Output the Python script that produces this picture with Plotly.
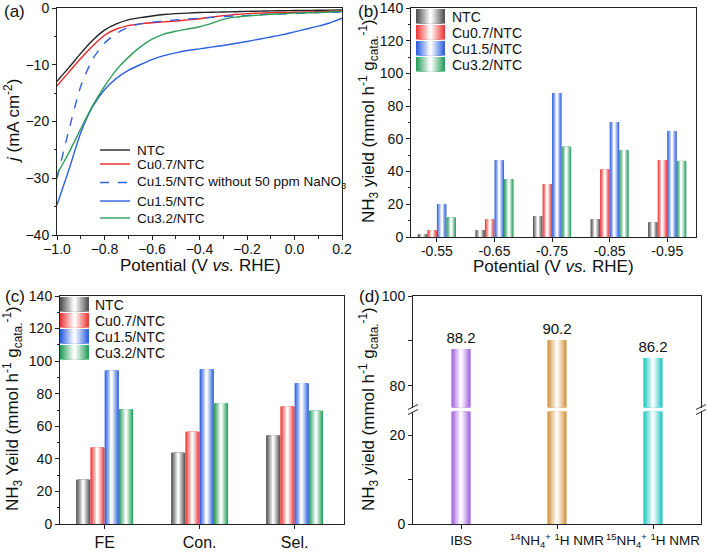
import plotly.graph_objects as go

W, H = 707, 553
FONT = "Liberation Sans, Arial, sans-serif"

# ---------------- Panel (a) data ----------------
potential = [-1.0, -0.95, -0.9, -0.85, -0.8, -0.75, -0.7, -0.65, -0.6, -0.55, -0.5, -0.45, -0.4,
             -0.35, -0.3, -0.25, -0.2, -0.15, -0.1, -0.05, 0.0, 0.05, 0.1, 0.15, 0.2]
j_ntc = [-12.9, -10.5, -8.0, -5.7, -3.9, -2.8, -2.1, -1.7, -1.4, -1.15, -1.0, -0.9, -0.8,
         -0.75, -0.7, -0.65, -0.6, -0.55, -0.5, -0.48, -0.45, -0.42, -0.4, -0.37, -0.35]
j_cu07 = [-13.7, -11.3, -8.9, -6.7, -4.8, -3.7, -3.1, -2.8, -2.6, -2.45, -2.3, -2.1, -1.9,
          -1.6, -1.35, -1.15, -1.0, -0.9, -0.85, -0.8, -0.75, -0.7, -0.65, -0.6, -0.55]
j_cu15_no3free = [-30.0, -21.5, -13.8, -9.0, -6.2, -4.5, -3.4, -2.8, -2.5, -2.3, -2.1, -1.95, -1.8,
                  -1.65, -1.5, -1.4, -1.3, -1.2, -1.1, -1.05, -1.0, -0.9, -0.8, -0.75, -0.7]
j_cu15 = [-34.7, -28.5, -22.0, -17.4, -14.4, -12.4, -11.0, -10.0, -9.1, -8.4, -7.9, -7.5, -7.2,
          -6.9, -6.6, -6.25, -5.9, -5.5, -5.1, -4.7, -4.2, -3.7, -3.2, -2.6, -1.8]
j_cu32 = [-29.3, -25.5, -21.3, -17.2, -13.8, -10.9, -8.7, -6.9, -5.5, -4.6, -4.1, -3.7, -3.3,
          -2.7, -2.0, -1.6, -1.4, -1.25, -1.1, -1.0, -0.9, -0.85, -0.8, -0.7, -0.6]

# ---------------- Panel (b) data ----------------
pot_labels_b = ["-0.55", "-0.65", "-0.75", "-0.85", "-0.95"]
yield_b_ntc = [1.8, 4.3, 12.7, 10.8, 9.0]
yield_b_cu07 = [4.1, 10.8, 32.3, 41.3, 47.0]
yield_b_cu15 = [20.1, 46.9, 88.0, 70.3, 64.8]
yield_b_cu32 = [11.9, 35.4, 55.2, 53.1, 46.5]

# ---------------- Panel (c) data ----------------
cats_c = ["FE", "Con.", "Sel."]
yield_c_ntc = [27.2, 43.7, 54.4]
yield_c_cu07 = [47.0, 56.6, 72.1]
yield_c_cu15 = [94.2, 95.0, 86.4]
yield_c_cu32 = [70.5, 74.2, 69.5]

# ---------------- Panel (d) data ----------------
cats_d = ["IBS", "<sup>14</sup>NH<sub>4</sub><sup>+</sup> <sup>1</sup>H NMR",
          "<sup>15</sup>NH<sub>4</sub><sup>+</sup> <sup>1</sup>H NMR"]
yield_d = [88.2, 90.2, 86.2]

series_names = ["NTC", "Cu0.7/NTC", "Cu1.5/NTC", "Cu3.2/NTC"]
series_rgb = [(85, 85, 85), (238, 60, 60), (50, 100, 225), (45, 160, 95)]
d_rgb = [(165, 100, 225), (210, 150, 65), (35, 200, 195)]


def px2x(px):
    return px / W


def py2y(py):
    return 1 - py / H


def mix(rgb, t):
    r, g, b = [int(round(c + (255 - c) * t)) for c in rgb]
    return f"rgb({r},{g},{b})"


NLEV = 8

fig = go.Figure()

# ---------- (a) lines ----------
line_specs = [
    ("NTC", j_ntc, "#222222", "solid"),
    ("Cu0.7/NTC", j_cu07, "#e82424", "solid"),
    ("Cu1.5/NTC without 50 ppm NaNO<sub>3</sub>", j_cu15_no3free, "#2f62e0", "dash"),
    ("Cu1.5/NTC", j_cu15, "#2f62e0", "solid"),
    ("Cu3.2/NTC", j_cu32, "#2e9e5b", "solid"),
]
for name, ys, col, dash in line_specs:
    fig.add_trace(go.Scatter(x=potential, y=ys, mode="lines", name=name, showlegend=False,
                             line=dict(color=col, width=1.4, dash=dash, shape="spline", smoothing=0.6),
                             xaxis="x", yaxis="y"))


def grad_bars(xidx, values, rgb, center_off, width, xa, ya, text=None):
    for k in range(NLEV):
        wk = width * (1 - k / NLEV)
        t = k / (NLEV - 1) * 0.97
        kw = {}
        if text is not None and k == 0:
            kw = dict(text=text, textposition="outside", cliponaxis=False, constraintext="none",
                      textfont=dict(size=15, color="#111", family=FONT))
        fig.add_trace(go.Bar(x=xidx, y=values, width=wk, offset=center_off - wk / 2,
                             marker=dict(color=mix(rgb, t), line=dict(width=0)),
                             xaxis=xa, yaxis=ya, showlegend=False, hoverinfo="skip", **kw))


# ---------- (b) bars ----------
wb = 0.166
idx_b = list(range(len(pot_labels_b)))
for i, vals in enumerate([yield_b_ntc, yield_b_cu07, yield_b_cu15, yield_b_cu32]):
    grad_bars(idx_b, vals, series_rgb[i], (i - 1.5) * wb, wb, "x2", "y2")

# ---------- (c) bars ----------
wc = 0.15
idx_c = list(range(len(cats_c)))
for i, vals in enumerate([yield_c_ntc, yield_c_cu07, yield_c_cu15, yield_c_cu32]):
    grad_bars(idx_c, vals, series_rgb[i], (i - 1.5) * wc, wc, "x3", "y3")

# ---------- (d) bars (broken axis) ----------
wd = 0.2
for i in range(len(cats_d)):
    grad_bars([i], [yield_d[i]], d_rgb[i], 0, wd, "x4", "y4")
    grad_bars([i], [yield_d[i]], d_rgb[i], 0, wd, "x5", "y5", text=[f"{yield_d[i]:.1f}"])

axis_common = dict(showline=True, linecolor="#222", linewidth=1, mirror=True, ticks="outside",
                   ticklen=4, tickwidth=1, tickcolor="#222", showgrid=False, zeroline=False,
                   automargin=False, tickangle=0,
                   tickfont=dict(size=14, family=FONT, color="#111"))
minor_common = dict(ticks="outside", ticklen=2.5, tickcolor="#222", showgrid=False)

layout = dict(
    template="none",
    width=W, height=H, margin=dict(l=0, r=0, t=0, b=0, pad=0), autosize=False,
    paper_bgcolor="white", plot_bgcolor="white", barmode="overlay",
    font=dict(family=FONT, color="#111"),
    showlegend=False,
    xaxis=dict(domain=[px2x(57), px2x(342)], anchor="y", range=[-1.0, 0.2], dtick=0.2,
               tickformat=".1f", minor=dict(dtick=0.1, **minor_common), ticklabelstandoff=-3,
               **axis_common),
    yaxis=dict(domain=[py2y(235), py2y(8)], anchor="x", range=[-40, 0], dtick=10,
               minor=dict(dtick=5, **minor_common), **axis_common),
    xaxis2=dict(domain=[px2x(411), px2x(696)], anchor="y2", range=[-0.45, 4.5],
                tickvals=idx_b, ticktext=pot_labels_b, ticklabelstandoff=-3, **axis_common),
    yaxis2=dict(domain=[py2y(237), py2y(8)], anchor="x2", range=[0, 140], dtick=20,
                minor=dict(dtick=10, **minor_common), **axis_common),
    xaxis3=dict(domain=[px2x(60), px2x(344)], anchor="y3", range=[-0.47, 2.52],
                tickvals=idx_c, ticktext=cats_c,
                **{**axis_common, "tickfont": dict(size=16, family=FONT, color="#111")}),
    yaxis3=dict(domain=[py2y(524), py2y(296)], anchor="x3", range=[0, 140], dtick=20,
                minor=dict(dtick=10, **minor_common), **axis_common),
    xaxis4=dict(domain=[px2x(413), px2x(701)], anchor="y4", range=[-0.5, 2.5],
                tickvals=[0, 1, 2], ticktext=cats_d,
                **{**axis_common, "mirror": False, "tickfont": dict(size=13.5, family=FONT, color="#111")}),
    yaxis4=dict(domain=[py2y(524), py2y(411.5)], anchor="x4", range=[0, 25.3],
                tickvals=[0, 20], ticktext=["0", "20"],
                minor=dict(tickvals=[10], ticks="outside", ticklen=4, tickcolor="#222", showgrid=False),
                **axis_common),
    xaxis5=dict(domain=[px2x(413), px2x(701)], anchor="y5", range=[-0.5, 2.5], matches="x4",
                side="top", showline=True, linecolor="#222", linewidth=1, showticklabels=False,
                ticks="", showgrid=False, zeroline=False, automargin=False),
    yaxis5=dict(domain=[py2y(407.5), py2y(296)], anchor="x5", range=[75.2, 100],
                tickvals=[80, 100], ticktext=["80", "100"],
                minor=dict(tickvals=[90], ticks="outside", ticklen=4, tickcolor="#222", showgrid=False),
                **axis_common),
)

annotations = []
shapes = []


def ann(text, x, y, size=17, angle=0, xanchor="center", yanchor="middle"):
    annotations.append(dict(text=text, x=px2x(x), y=py2y(y), xref="paper", yref="paper",
                            showarrow=False, textangle=angle, xanchor=xanchor, yanchor=yanchor,
                            font=dict(size=size, family=FONT, color="#111")))


# panel labels
ann("(a)", 2, 11, size=17, xanchor="left")
ann("(b)", 356, 11, size=17, xanchor="left")
ann("(c)", 3, 296, size=17, xanchor="left")
ann("(d)", 357, 296, size=17, xanchor="left")

# axis titles
ann("Potential (V <i>vs.</i> RHE)", 200, 265)
ann("Potential (V <i>vs.</i> RHE)", 553, 266)
ann("<i>j</i> (mA cm<sup>-2</sup>)", 12, 121, angle=-90)
ylab = "NH<sub>3</sub> yield (mmol h<sup>-1</sup> g<sub>cata.</sub><sup>-1</sup>)"
ann(ylab, 368, 121, angle=-90)
ann("NH<sub>3</sub> Yeild (mmol h<sup>-1</sup> g<sub>cata.</sub><sup>-1</sup>)", 12, 409, angle=-90)
ann(ylab, 368, 409, angle=-90)

# legend for (a): line samples + labels
leg_rows = [150, 164, 182.5, 201, 218]
for (name, ys, col, dash), yrow in zip(line_specs, leg_rows):
    shapes.append(dict(type="line", xref="paper", yref="paper",
                       x0=px2x(100), x1=px2x(130), y0=py2y(yrow), y1=py2y(yrow),
                       line=dict(color=col, width=1.4, dash=dash)))
    ann(name, 135, yrow, size=13.5, xanchor="left")

# gradient legend swatches for (b) and (c)
for (sx, sy0, tx) in [(416, 9, 450), (60, 297, 93)]:
    for i, name in enumerate(series_names):
        top = sy0 + i * 16
        bot = top + 14.5
        for k in range(NLEV):
            frac = 1 - k / NLEV
            half = 14.5 * frac
            cx = sx + 14.5
            shapes.append(dict(type="rect", xref="paper", yref="paper",
                               x0=px2x(cx - half), x1=px2x(cx + half),
                               y0=py2y(bot), y1=py2y(top), line=dict(width=0),
                               fillcolor=mix(series_rgb[i], k / (NLEV - 1) * 0.97)))
        ann(name, tx, top + 7.5, size=14, xanchor="left")

# break marks on (d)
for xp in [413, 701]:
    for dy in [-2.5, 2.5]:
        yc = 409.5 + dy
        shapes.append(dict(type="line", xref="paper", yref="paper",
                           x0=px2x(xp - 5), y0=py2y(yc + 2.5), x1=px2x(xp + 5), y1=py2y(yc - 2.5),
                           line=dict(color="#222", width=1)))

layout["annotations"] = annotations
layout["shapes"] = shapes
fig.update_layout(**layout)
fig.write_html("out.html", config={"displayModeBar": False},
               post_script="document.body.style.margin='0';")
